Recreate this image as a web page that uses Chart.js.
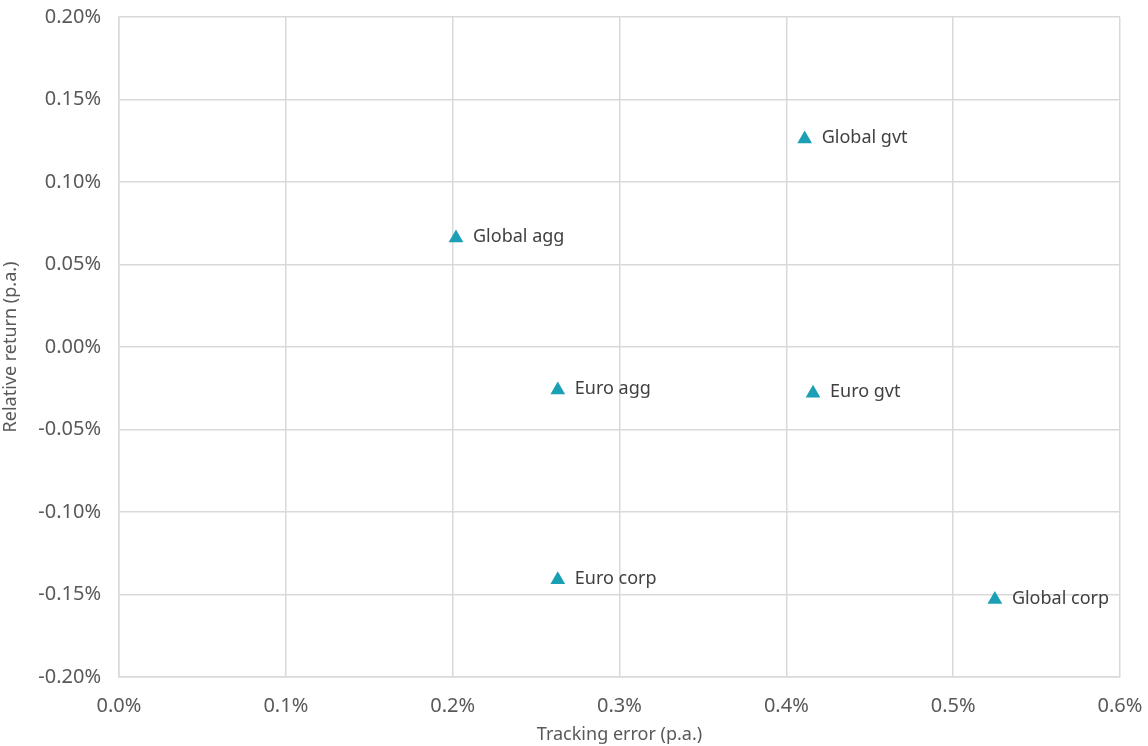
<!DOCTYPE html>
<html lang="en">
<head>
  <meta charset="UTF-8" />
  <title>Tracking error vs relative return</title>
  <style>
    body { margin: 0; background: #ffffff; }
    #wrap { width: 1148px; height: 746px; }
  </style>
</head>
<body>
  <div id="wrap"><canvas id="chart" width="1148" height="746"></canvas></div>

  <script src="https://cdn.jsdelivr.net/npm/chart.js"></script>
  <script>
    // values in percent
    const names = ["Global gvt", "Global agg", "Euro agg", "Euro gvt", "Euro corp", "Global corp"];
    const trackingError = [0.411, 0.202, 0.263, 0.416, 0.263, 0.525];
    const relativeReturn = [0.126, 0.066, -0.026, -0.028, -0.141, -0.153];

    const FONT = "'Noto Sans', sans-serif";

    const pointLabels = {
      id: "pointLabels",
      afterDatasetsDraw(chart) {
        const ctx = chart.ctx;
        const meta = chart.getDatasetMeta(0);
        ctx.save();
        ctx.font = "18px " + FONT;
        ctx.fillStyle = "#404040";
        ctx.textAlign = "left";
        ctx.textBaseline = "middle";
        meta.data.forEach((pt, i) => {
          ctx.fillText(names[i], pt.x + 17, pt.y - 1);
        });
        ctx.restore();
      }
    };

    new Chart(document.getElementById("chart").getContext("2d"), {
      type: "scatter",
      data: {
        datasets: [{
          data: trackingError.map((x, i) => ({ x: x, y: relativeReturn[i] })),
          pointStyle: "triangle",
          pointRadius: 8.5,
          backgroundColor: "#1a9fb5",
          borderColor: "#1a9fb5",
          borderWidth: 0
        }]
      },
      options: {
        responsive: false,
        animation: false,
        layout: { padding: { top: 17, right: 28, left: 0, bottom: 0 } },
        plugins: { legend: { display: false }, tooltip: { enabled: false } },
        scales: {
          x: {
            min: 0, max: 0.6,
            ticks: {
              stepSize: 0.1,
              color: "#595959",
              font: { family: FONT, size: 20 },
              padding: 17,
              maxRotation: 0,
              callback: v => v.toFixed(1) + "%"
            },
            grid: { color: "#d9d9d9", lineWidth: 1.5, drawTicks: false },
            border: { color: "#d9d9d9", width: 1.5 },
            title: {
              display: true,
              text: "Tracking error (p.a.)",
              color: "#595959",
              font: { family: FONT, size: 18 },
              padding: { top: 2, bottom: 0 }
            },
            afterFit: s => { s.height = 69; s.paddingLeft = 0; s.paddingRight = 0; }
          },
          y: {
            min: -0.2, max: 0.2,
            ticks: {
              stepSize: 0.05,
              color: "#595959",
              font: { family: FONT, size: 20 },
              padding: 18,
              callback: v => v.toFixed(2) + "%"
            },
            grid: { color: "#d9d9d9", lineWidth: 1.5, drawTicks: false },
            border: { color: "#d9d9d9", width: 1.5 },
            title: {
              display: true,
              text: "Relative return (p.a.)",
              color: "#595959",
              font: { family: FONT, size: 18 },
              padding: { top: 0, bottom: 4 }
            },
            afterFit: s => { s.width = 119; s.paddingTop = 0; s.paddingBottom = 0; }
          }
        }
      },
      plugins: [pointLabels]
    });
  </script>
</body>
</html>
